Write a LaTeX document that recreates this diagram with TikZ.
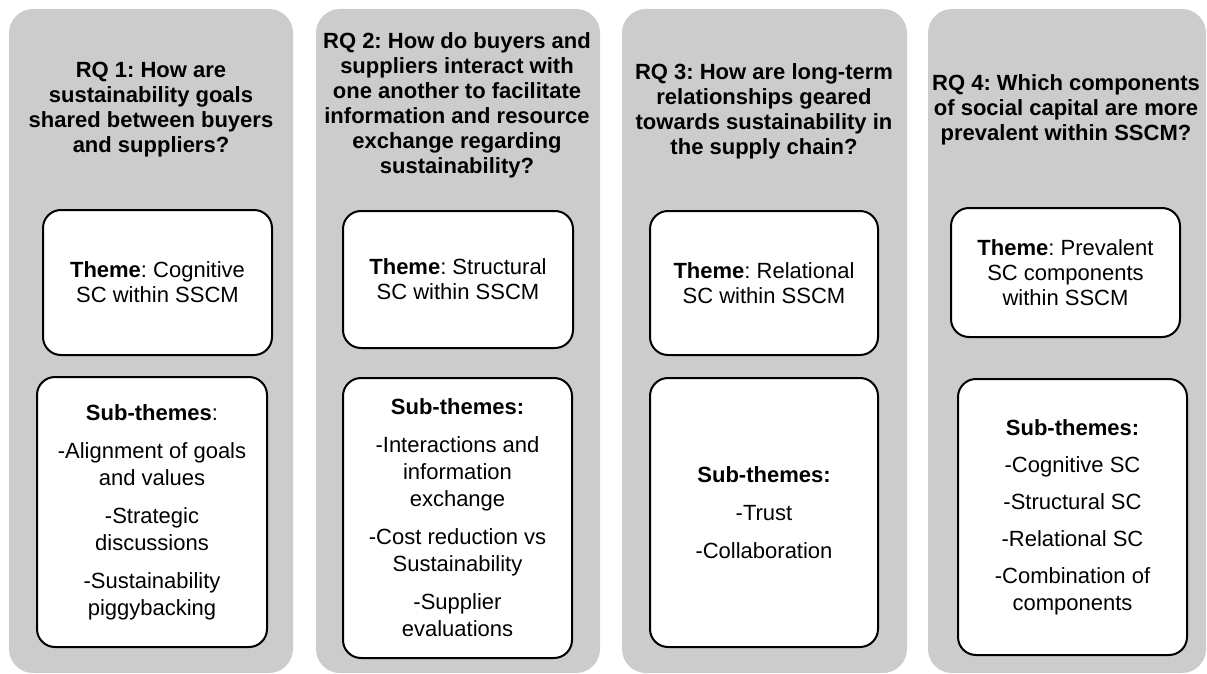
\documentclass[tikz,border=0pt]{standalone}
\usepackage{fontspec}
\setmainfont{Liberation Sans}
\frenchspacing
\definecolor{colgray}{RGB}{204,204,204}

\begin{document}
\begin{tikzpicture}[x=1pt,y=-1pt,
    every node/.style={align=center,inner sep=0pt,font=\fontsize{22}{25}\selectfont},
    column/.style={fill=colgray,rounded corners=24pt,minimum height=664pt},
    rq/.style={font=\fontsize{22}{25}\selectfont\bfseries},
    theme/.style={draw,line width=2pt,fill=white,rounded corners=18pt},
    sub/.style={theme,font=\fontsize{22}{27}\selectfont}]
\useasboundingbox (0,0) rectangle (1207,674);

% grey columns
\node[column,minimum width=284pt] (col1) at (151,341) {};
\node[column,minimum width=284pt] (col2) at (458,341) {};
\node[column,minimum width=285pt] (col3) at (764.5,341) {};
\node[column,minimum width=278pt] (col4) at (1067,341) {};

% research questions
\node[rq] (rq1) at (151,110) {RQ 1: How are\\sustainability goals\\shared between buyers\\and suppliers?};
\node[rq] (rq2) at (457,105) {RQ 2: How do buyers and\\suppliers interact with\\one another to facilitate\\information and resource\\exchange regarding\\sustainability?};
\node[rq] (rq3) at (764,111) {RQ 3: How are long-term\\relationships geared\\towards sustainability in\\the supply chain?};
\node[rq] (rq4) at (1066,110) {RQ 4: Which components\\of social capital are more\\prevalent within SSCM?};

% themes
\node[theme,minimum width=229pt,minimum height=145pt] (th1) at (157.5,282.5) {\textbf{Theme}: Cognitive\\SC within SSCM};
\node[theme,minimum width=230pt,minimum height=137pt] (th2) at (458,279.5) {\textbf{Theme}: Structural\\SC within SSCM};
\node[theme,minimum width=228pt,minimum height=144pt] (th3) at (764,283) {\textbf{Theme}: Relational\\SC within SSCM};
\node[theme,minimum width=229pt,minimum height=129pt] (th4) at (1065.5,272.5) {\textbf{Theme}: Prevalent\\SC components\\within SSCM};

% sub-themes
\node[sub,minimum width=230pt,minimum height=270pt] (sub1) at (152,512) {\textbf{Sub-themes}:\\[11pt]-Alignment of goals\\and values\\[11pt]-Strategic\\discussions\\[11pt]-Sustainability\\piggybacking};
\node[sub,minimum width=229pt,minimum height=280pt] (sub2) at (457.5,518) {\textbf{Sub-themes:}\\[11pt]-Interactions and\\information\\exchange\\[11pt]-Cost reduction vs\\Sustainability\\[11pt]-Supplier\\evaluations};
\node[sub,minimum width=228pt,minimum height=269pt] (sub3) at (764,512.5) {\textbf{Sub-themes:}\\[11pt]-Trust\\[11pt]-Collaboration};
\node[sub,minimum width=229pt,minimum height=276pt] (sub4) at (1072.5,517) {\textbf{Sub-themes:}\\[10pt]-Cognitive SC\\[10pt]-Structural SC\\[10pt]-Relational SC\\[10pt]-Combination of\\components};
\end{tikzpicture}
\end{document}
